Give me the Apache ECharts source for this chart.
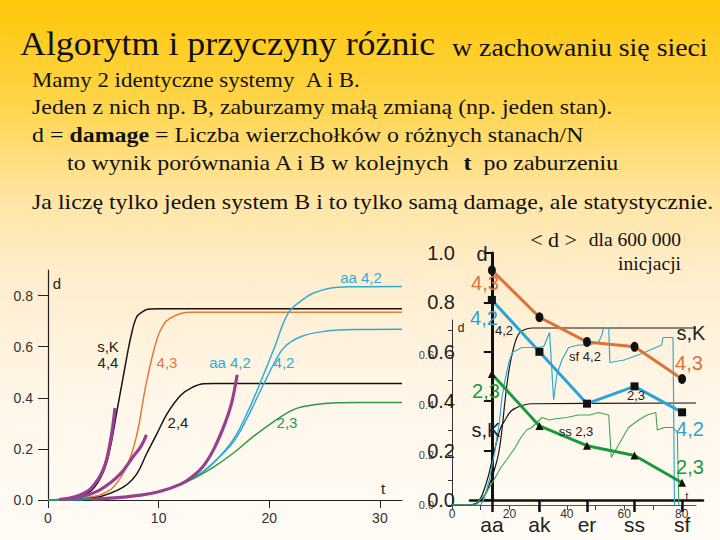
<!DOCTYPE html>
<html><head><meta charset="utf-8">
<script src="https://cdn.jsdelivr.net/npm/echarts@6/dist/echarts.min.js"></script>
<style>html,body{margin:0;padding:0;}#c{width:720px;height:540px;}</style>
</head><body><div id="c"></div>
<script>
// ---------- DATA ----------
// left chart: d(t) curves, [t, d]
const leftSK44 = [[0,0],[1,0.002],[2,0.006],[3,0.018],[4,0.04],[5,0.11],[5.6,0.2],[6.2,0.34],[7,0.53],[7.5,0.64],[8,0.715],[8.5,0.735],[9,0.746],[10,0.748],[32,0.748]];
const left43 = [[0,0],[2,0.002],[3,0.006],[4,0.013],[4.7,0.02],[5.9,0.05],[7.1,0.13],[8,0.25],[8.9,0.46],[9.85,0.63],[10.5,0.69],[11,0.71],[12,0.73],[13,0.735],[32,0.735]];
const left24 = [[0,0],[3,0.004],[4.7,0.013],[6.8,0.05],[8,0.10],[8.9,0.18],[9.85,0.26],[10.8,0.34],[12,0.41],[13,0.44],[14.1,0.455],[15,0.456],[32,0.456]];
const leftAA42 = [[0,0],[2,0.001],[4,0.004],[6,0.009],[8,0.017],[10,0.032],[12,0.062],[13,0.085],[14,0.11],[15.3,0.16],[16.8,0.24],[18,0.34],[19.2,0.46],[20.5,0.6],[21.7,0.73],[22.9,0.78],[24,0.81],[25.6,0.83],[27,0.834],[32,0.835]];
const left42 = [[0,0],[2,0.001],[4,0.004],[6,0.009],[8,0.017],[10,0.032],[12,0.062],[13,0.085],[14,0.11],[15.3,0.16],[16.8,0.23],[18,0.32],[19,0.41],[19.8,0.48],[20.5,0.54],[21.4,0.6],[22.9,0.64],[25,0.66],[28,0.667],[32,0.668]];
const left23 = [[0,0],[2,0.001],[4,0.004],[6,0.009],[8,0.017],[10,0.032],[12,0.062],[13.2,0.085],[15,0.13],[16.8,0.185],[18.6,0.25],[20.5,0.31],[22,0.35],[23,0.365],[25,0.378],[28,0.382],[32,0.382]];
const leftFitA = [[1,0.002],[2,0.008],[2.9,0.02],[3.9,0.046],[5,0.12],[5.6,0.22],[6.06,0.36]];
const leftFitB = [[1,0.002],[2.9,0.012],[4.7,0.04],[6.5,0.10],[7.7,0.17],[8.4,0.21],[8.9,0.255]];
const leftFitC = [[4,0.003],[6,0.008],[8,0.017],[10,0.032],[12,0.062],[13,0.09],[14,0.13],[15,0.2],[16,0.3],[16.6,0.38],[17.1,0.49]];
const leftXTicks = [0,10,20,30];
const leftYTicks = [0,0.2,0.4,0.6,0.8];

// right inner chart: d(t)
const innerSKtop = [[0,0],[6,0],[9,0.01],[11,0.03],[13,0.08],[15,0.15],[16.3,0.21],[17.5,0.31],[18.5,0.42],[20,0.55],[21.5,0.63],[23,0.68],[25,0.70],[28,0.708],[85,0.708]];
const innerSKlow = [[0,0],[6,0],[9,0.01],[12,0.09],[14,0.18],[15.7,0.26],[17,0.31],[18.5,0.34],[20.5,0.375],[22.6,0.39],[25,0.4],[28,0.405],[85,0.408]];
const innerCyan = [[0,0],[10,0],[11,0.02],[13,0.1],[15,0.22],[16.5,0.33],[17.4,0.43],[18.5,0.5],[19.8,0.57],[21,0.61],[24.3,0.63],[30,0.63],[32,0.635],[34,0.69],[35.4,0.42],[36.5,0.52],[38.3,0.58],[40.6,0.63],[44,0.64],[47.6,0.64],[51,0.65],[52.2,0.68],[52.8,0.71],[54.6,0.71],[55,0.57],[60,0.58],[66,0.605],[72,0.635],[73,0.64],[73.5,0.67],[77,0.67],[77.5,0]];
const innerGreen = [[0,0],[8,0],[9.7,0.02],[12,0.05],[14.6,0.1],[17,0.15],[19,0.18],[22,0.23],[24,0.27],[26,0.3],[27.8,0.31],[31.3,0.35],[34,0.34],[36,0.345],[40,0.35],[44,0.36],[48,0.36],[51,0.37],[54.6,0.36],[55.5,0.19],[58,0.24],[61.5,0.31],[65,0.34],[68,0.36],[71,0.37],[71.5,0.3],[74,0.31],[77,0.31],[78.5,0.29],[79,0]];
const innerXLabels = [0,20,40,60,80];
const innerXTicks = [0,10,20,30,40,50,60,70,80];
const innerYLabels = [0,0.2,0.4,0.6];
const innerYTicks = [0,0.1,0.2,0.3,0.4,0.5,0.6,0.7];

// right main chart: <d> for 600 000 initiations
const categories = ['aa','ak','er','ss','sf'];
const avg43 = [0.93,0.74,0.64,0.62,0.49];
const avg42 = [0.81,0.60,0.39,0.46,0.355];
const avg23 = [0.51,0.30,0.22,0.18,0.07];
const mainYTicks = [0,0.2,0.4,0.6,0.8,1.0];

// ---------- CHART ----------
const C = {black:'#151515', orange:'#E57A35', cyan:'#33AAD4', green:'#2A9A48', purple:'#96408F',
           mOrange:'#D9733A', mCyan:'#2AA3D8', mGreen:'#189A3C'};
const SERIF = 'Liberation Serif, serif';
const SANS = 'Liberation Sans, Arial, sans-serif';
const SX = 1.087;          // horizontal stretch of the slide text
const NB = '\u00A0';

const chart = echarts.init(document.getElementById('c'), null, {renderer:'svg'});

function txt(x, y, text, size, color, opts) {
  opts = opts || {};
  const fam = opts.family || SANS;
  return {type:'text', z:100, x:x, y:y, scaleX:opts.sx||1,
    style:{x:0, y:0, text:text, font:(opts.weight||'normal') + ' ' + size + 'px ' + fam,
    fill:color, textAlign:opts.align||'center', textVerticalAlign:'middle'}};
}
function richTxt(x, y, parts, size, sx) {
  return {type:'text', z:100, x:x, y:y, scaleX:sx||1, style:{x:0, y:0, textVerticalAlign:'middle', textAlign:'left', fill:'#111',
    text:parts, font:size + 'px ' + SERIF,
    rich:{a:{font:size + 'px ' + SERIF, fill:'#111'}, b:{font:'bold ' + size + 'px ' + SERIF, fill:'#111'}}}};
}
const fmt1 = v => (Math.round(v*10)/10).toFixed(1);

function lineS(name, data, color, width, xi, yi, smooth) {
  return {name:name, type:'line', xAxisIndex:xi, yAxisIndex:yi, data:data, showSymbol:false, symbol:'none',
    smooth: smooth ? 0.4 : false, lineStyle:{color:color, width:width}, silent:true, animation:false, z:3};
}
function markS(name, vals, color, sym, size) {
  return {name:name, type:'line', xAxisIndex:2, yAxisIndex:2, data:vals.map((v,i)=>[i,v]),
    symbol:sym, symbolSize:size, showSymbol:true, lineStyle:{color:color, width:3},
    itemStyle:{color:'#111', borderWidth:0}, animation:false, z:5};
}

const option = {
  animation:false,
  backgroundColor:{type:'linear', x:0, y:0, x2:0, y2:1, colorStops:[
    {offset:0, color:'#FFC708'}, {offset:0.18, color:'#FFD445'}, {offset:0.36, color:'#FFE4A0'},
    {offset:0.5, color:'#FFEDCB'}, {offset:0.72, color:'#FFF6E8'}, {offset:1, color:'#FFFCF6'}]},
  grid:[
    {left:48, top:270, width:354, height:230, outerBoundsMode:'none'},
    {left:452, top:320, width:244, height:185, outerBoundsMode:'none'},
    {left:470, top:253, width:233, height:247, outerBoundsMode:'none'}
  ],
  xAxis:[
    {gridIndex:0, type:'value', min:0, max:32, splitLine:{show:false},
     axisLine:{lineStyle:{color:'#222', width:1.2}},
     axisTick:{customValues:leftXTicks, length:8, lineStyle:{color:'#222'}},
     axisLabel:{customValues:leftXTicks, fontSize:14, color:'#333', fontFamily:SANS, margin:11}},
    {gridIndex:1, type:'value', min:0, max:85, splitLine:{show:false},
     axisLine:{lineStyle:{color:'#555', width:1}},
     axisTick:{customValues:innerXTicks, length:5, lineStyle:{color:'#444'}},
     axisLabel:{customValues:innerXLabels, fontSize:12, color:'#333', fontFamily:SANS, margin:3}},
    {gridIndex:2, type:'value', min:-0.46, max:4.44, splitLine:{show:false},
     axisLine:{lineStyle:{color:'#111', width:2.5}},
     axisTick:{customValues:[0,1,2,3,4], length:12, lineStyle:{color:'#111', width:2.5}},
     axisLabel:{customValues:[0,1,2,3,4], formatter:v=>categories[Math.round(v)], fontSize:21, color:'#222', fontFamily:SANS, margin:14}}
  ],
  yAxis:[
    {gridIndex:0, type:'value', min:0, max:0.9, splitLine:{show:false},
     axisLine:{show:true, lineStyle:{color:'#222', width:1.2}},
     axisTick:{show:true, customValues:leftYTicks, length:10, lineStyle:{color:'#222'}},
     axisLabel:{customValues:leftYTicks, formatter:fmt1, fontSize:14, color:'#333', fontFamily:SANS, margin:15}},
    {gridIndex:1, type:'value', min:0, max:0.74, splitLine:{show:false},
     axisLine:{show:true, lineStyle:{color:'#333', width:1}},
     axisTick:{show:true, customValues:innerYTicks, length:4, lineStyle:{color:'#333'}},
     axisLabel:{customValues:innerYLabels, formatter:fmt1, fontSize:11, color:'#444', fontFamily:SANS, margin:18}},
    {gridIndex:2, type:'value', min:0, max:1, splitLine:{show:false},
     axisLine:{show:true, lineStyle:{color:'#111', width:3}},
     axisTick:{show:true, customValues:mainYTicks, length:8, lineStyle:{color:'#111', width:2}},
     axisLabel:{customValues:mainYTicks, formatter:fmt1, fontSize:20, color:'#222', fontFamily:SANS, margin:15}}
  ],
  series:[
    lineS('sK44', leftSK44, C.black, 1.5, 0, 0, true),
    lineS('43', left43, C.orange, 1.5, 0, 0, true),
    lineS('24', left24, C.black, 1.5, 0, 0, true),
    lineS('aa42', leftAA42, C.cyan, 1.5, 0, 0, true),
    lineS('42', left42, C.cyan, 1.5, 0, 0, true),
    lineS('23', left23, C.green, 1.5, 0, 0, true),
    lineS('fitA', leftFitA, C.purple, 3.2, 0, 0, true),
    lineS('fitB', leftFitB, C.purple, 3.2, 0, 0, true),
    lineS('fitC', leftFitC, C.purple, 3.2, 0, 0, true),
    lineS('iTop', innerSKtop, C.black, 1.2, 1, 1, true),
    lineS('iLow', innerSKlow, C.black, 1.2, 1, 1, true),
    lineS('iCyan', innerCyan, C.cyan, 1.2, 1, 1, false),
    lineS('iGreen', innerGreen, '#3DA655', 1.1, 1, 1, false),
    markS('m43', avg43, C.mOrange, 'circle', [8,10]),
    markS('m42', avg42, C.mCyan, 'rect', 8),
    markS('m23', avg23, C.mGreen, 'triangle', 8)
  ],
  graphic:[
    txt(20, 44, 'Algorytm i przyczyny różnic', 33, '#111', {family:SERIF, align:'left', sx:SX}),
    txt(452, 47, 'w zachowaniu się sieci', 25.6, '#111', {family:SERIF, align:'left', sx:SX}),
    txt(32, 80, 'Mamy 2 identyczne systemy ' + NB + 'A i B.', 22, '#111', {family:SERIF, align:'left', sx:1.04}),
    txt(32, 107, 'Jeden z nich np. B, zaburzamy małą zmianą (np. jeden stan).', 22, '#111', {family:SERIF, align:'left', sx:SX}),
    richTxt(32, 135, '{a|d = }{b|damage}{a| = Liczba wierzchołków o różnych stanach/N}', 22, SX),
    richTxt(67, 163, '{a|to wynik porównania A i B w kolejnych ' + NB + '}{b|t}{a|' + NB + ' po zaburzeniu}', 22, SX),
    txt(32, 202, 'Ja liczę tylko jeden system B i to tylko samą damage, ale statystycznie.', 22, '#111', {family:SERIF, align:'left', sx:SX}),
    txt(577, 239, '< d >', 22, '#111', {family:SERIF, align:'right'}),
    txt(681, 240, 'dla 600 000', 18, '#111', {family:SERIF, align:'right', sx:SX}),
    txt(681, 264, 'inicjacji', 18, '#111', {family:SERIF, align:'right', sx:SX}),
    // left chart labels
    txt(57, 283, 'd', 15, '#222'),
    txt(361, 277, 'aa 4,2', 15, C.cyan),
    txt(108, 346, 's,K', 15, '#222'),
    txt(108, 362, '4,4', 15, '#222'),
    txt(167, 362, '4,3', 15, C.orange),
    txt(230, 362, 'aa 4,2', 15, C.cyan),
    txt(284, 362, '4,2', 15, C.cyan),
    txt(178, 422, '2,4', 15, '#222'),
    txt(287, 422, '2,3', 15, C.green),
    txt(383, 488, 't', 15, '#222'),
    // right chart labels
    txt(482, 254, 'd', 20, '#222'),
    txt(485, 283, '4,3', 20, C.mOrange),
    txt(484, 318, '4,2', 20, C.mCyan),
    txt(486, 391, '2,3', 20, C.mGreen),
    txt(486, 430, 's,K', 20, '#222'),
    txt(691, 333, 's,K', 20, '#222'),
    txt(689, 363, '4,3', 20, C.mOrange),
    txt(690, 429, '4,2', 20, C.mCyan),
    txt(690, 467, '2,3', 20, C.mGreen),
    txt(461, 328, 'd', 12, '#222'),
    txt(504, 330, '4,2', 13, '#222'),
    txt(585, 356, 'sf 4,2', 13, '#222'),
    txt(576, 431, 'ss 2,3', 13, '#222'),
    txt(636, 395, '2,3', 13, '#222'),
    txt(687, 496, 't', 10, '#222')
  ]
};
chart.setOption(option);
</script></body></html>
